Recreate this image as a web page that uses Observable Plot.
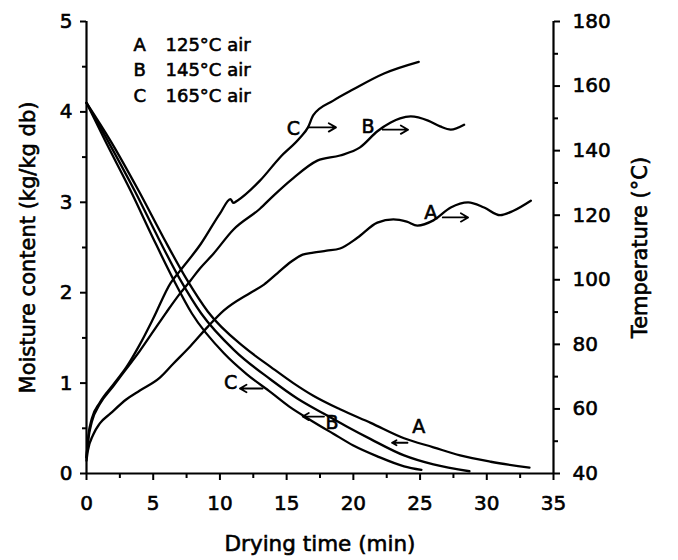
<!DOCTYPE html>
<html><head><meta charset="utf-8">
<script src="https://cdn.jsdelivr.net/npm/d3@7"></script>
<script src="https://cdn.jsdelivr.net/npm/@observablehq/plot@0.6"></script>
<style>
  html,body{margin:0;padding:0;background:#fff;}
  #chart{width:678px;height:560px;}
  #chart svg text{paint-order:stroke;stroke:#000;stroke-width:0.6px;}
</style>
</head><body><div id="chart"></div>
<script>
// ---------- data ----------
const seriesNames = ["A", "B", "C"];
const airTemps = [125, 145, 165];

// Moisture content (kg/kg db) vs drying time (min)
const moistTimeA = [0, 1.8, 3.9, 5.8, 7.5, 9.1, 11.8, 13.8, 15.5, 17.0, 19.0, 21.3, 23.8, 26.0, 28.0, 30.3, 33.2];
const moistA     = [4.1, 3.68, 3.13, 2.6, 2.15, 1.79, 1.4, 1.18, 1.0, 0.86, 0.71, 0.56, 0.39, 0.29, 0.2, 0.13, 0.065];
const moistTimeB = [0, 1.6, 3.6, 5.4, 7.0, 8.6, 11.1, 13.8, 15.8, 17.8, 19.5, 21.3, 23.8, 26.0, 28.7];
const moistB     = [4.1, 3.68, 3.13, 2.6, 2.15, 1.77, 1.36, 1.04, 0.83, 0.66, 0.52, 0.38, 0.2, 0.1, 0.025];
const moistTimeC = [0, 1.4, 3.3, 5.0, 6.5, 7.9, 10.3, 12.0, 13.8, 15.2, 16.8, 18.5, 20.0, 21.8, 23.8, 25.1];
const moistC     = [4.1, 3.68, 3.13, 2.6, 2.15, 1.77, 1.33, 1.1, 0.9, 0.74, 0.59, 0.44, 0.31, 0.19, 0.08, 0.04];

// Temperature (°C) vs drying time (min)
const tempTimeA = [0, 0.1, 0.5, 1.0, 1.8, 3.0, 4.0, 5.5, 6.5, 7.8, 9.1, 10.3, 12.3, 13.3, 14.3, 15.3, 16.2, 17.0, 18.0, 19.0, 20.3, 21.8, 23.0, 24.0, 24.8, 26.0, 27.3, 28.6, 29.8, 31.0, 32.0, 33.3];
const tempA     = [44, 47, 52, 55.5, 58.6, 63, 65.7, 69.7, 74, 79.5, 85.5, 90.5, 96, 98.5, 102, 105.5, 107.8, 108.4, 109, 109.7, 113, 117.7, 118.7, 118, 116.8, 118.4, 122.4, 124, 122.4, 120, 121.4, 124.5];
const tempTimeB = [0, 0.15, 0.4, 1.0, 2.0, 3.0, 4.0, 5.0, 6.0, 7.0, 7.8, 8.5, 9.5, 11.0, 13.0, 14.0, 15.5, 17.3, 19.0, 20.5, 21.8, 22.8, 23.5, 24.3, 25.6, 26.5, 27.3, 28.3];
const tempB     = [45, 51, 56, 61.5, 67, 72.5, 78, 84, 90, 95.7, 99.8, 103.5, 108, 115.5, 122, 126, 131.5, 136.9, 138.5, 141, 146, 148.7, 150, 150.6, 149.3, 147.5, 146.5, 148];
const tempTimeC = [0, 0.15, 0.4, 1.0, 2.0, 3.0, 4.0, 5.0, 6.3, 7.05, 8.55, 10.0, 10.8, 11.0, 11.3, 13.0, 14.5, 16.0, 16.6, 17.0, 18.5, 20.0, 22.3, 24.9];
const tempC     = [45, 52, 57, 62, 67.5, 73, 80, 88, 99, 103, 111, 120.5, 125, 123.8, 124.5, 130.7, 137.9, 144, 147.2, 151, 155.5, 159, 163.9, 167.5];

// Curve annotations (label letter + arrow), data units
const moistLabelT = [24.9, 18.4, 10.8];
const moistLabelM = [0.51, 0.56, 1.0];
const moistArrowT1 = [24.06, 17.8, 13.2];
const moistArrowT2 = [22.9, 16.2, 11.5];
const moistArrowM = [0.34, 0.63, 0.94];
const tempLabelT = [25.8, 21.1, 15.5];
const tempLabelV = [120.8, 147.2, 146.8];
const tempArrowT1 = [26.7, 22.2, 16.6];
const tempArrowT2 = [28.6, 24.1, 18.7];
const tempArrowV = [119.3, 146.5, 147.2];

// Axis ticks
const xTicks = [0, 5, 10, 15, 20, 25, 30, 35];
const xMinor = [2.5, 7.5, 12.5, 17.5, 22.5, 27.5, 32.5];
const moistTicks = [0, 1, 2, 3, 4, 5];
const moistMinor = [0.5, 1.5, 2.5, 3.5, 4.5];
const tempTicks = [40, 60, 80, 100, 120, 140, 160, 180];
const tempMinor = [50, 70, 90, 110, 130, 150, 170];

const xLabel = "Drying time (min)";
const yLabel = "Moisture content (kg/kg db)";
const y2Label = "Temperature (\u00B0C)";

// ---------- helpers ----------
const T_MIN = 40, T_MAX = 180, M_MAX = 5;
const toM = T => (T - T_MIN) / (T_MAX - T_MIN) * M_MAX;   // right axis -> left axis units
const fromM = m => T_MIN + m / M_MAX * (T_MAX - T_MIN);

const moistT = [moistTimeA, moistTimeB, moistTimeC];
const moistV = [moistA, moistB, moistC];
const tempT = [tempTimeA, tempTimeB, tempTimeC];
const tempV = [tempA, tempB, tempC];

const moistRows = seriesNames.flatMap((s, i) => moistT[i].map((t, j) => ({s, t, v: moistV[i][j]})));
const tempRows = seriesNames.flatMap((s, i) => tempT[i].map((t, j) => ({s, t, v: toM(tempV[i][j])})));

const labelRows = seriesNames.flatMap((s, i) => [
  {s, t: moistLabelT[i], v: moistLabelM[i]},
  {s, t: tempLabelT[i], v: toM(tempLabelV[i])}
]);
const arrowRows = seriesNames.flatMap((s, i) => [
  {t1: moistArrowT1[i], t2: moistArrowT2[i], v: moistArrowM[i]},
  {t1: tempArrowT1[i], t2: tempArrowT2[i], v: toM(tempArrowV[i])}
]);

const FONT = "DejaVu Sans";
const legendMarks = seriesNames.flatMap((s, i) => [
  Plot.text([s], {frameAnchor: "top-left", text: d => d, dx: 47, dy: 29 + i * 25.5, lineAnchor: "bottom", textAnchor: "start", fontSize: 18}),
  Plot.text([airTemps[i]], {frameAnchor: "top-left", text: d => `${d}\u00B0C air`, dx: 79, dy: 29 + i * 25.5, lineAnchor: "bottom", textAnchor: "start", fontSize: 18})
]);

const chart = Plot.plot({
  width: 678,
  height: 560,
  marginLeft: 86,
  marginRight: 125,
  marginTop: 21,
  marginBottom: 87,
  style: {fontFamily: FONT, fontSize: "20px", color: "#000", background: "#fff", overflow: "visible"},
  x: {domain: [0, 35]},
  y: {domain: [0, 5]},
  marks: [
    // axes
    Plot.axisX({ticks: xTicks, tickSize: 7, tickPadding: 15, strokeWidth: 2, label: null, fontSize: 20, tickFormat: "d"}),
    Plot.axisX({ticks: xMinor, tickSize: 5, strokeWidth: 2, label: null, tickFormat: () => ""}),
    Plot.axisY({ticks: moistTicks, anchor: "left", tickSize: 6, tickPadding: 8, strokeWidth: 2, label: null, fontSize: 20, tickFormat: "d"}),
    Plot.axisY({ticks: moistMinor, anchor: "left", tickSize: 4, strokeWidth: 2, label: null, tickFormat: () => ""}),
    Plot.axisY({ticks: tempTicks.map(toM), anchor: "right", tickSize: 6, tickPadding: 13, strokeWidth: 2, label: null, fontSize: 20, tickFormat: v => String(Math.round(fromM(v)))}),
    Plot.axisY({ticks: tempMinor.map(toM), anchor: "right", tickSize: 4, strokeWidth: 2, label: null, tickFormat: () => ""}),
    Plot.ruleX([0, 35], {stroke: "#000", strokeWidth: 2.2}),
    Plot.ruleY([0], {stroke: "#000", strokeWidth: 2.2}),
    // curves
    Plot.line(moistRows, {x: "t", y: "v", z: "s", stroke: "#000", strokeWidth: 2.3, curve: "monotone-x"}),
    Plot.line(tempRows, {x: "t", y: "v", z: "s", stroke: "#000", strokeWidth: 2.3, curve: "monotone-x"}),
    // annotations
    Plot.text(labelRows, {x: "t", y: "v", text: "s", fontSize: 19}),
    Plot.arrow(arrowRows, {x1: "t1", y1: "v", x2: "t2", y2: "v", stroke: "#000", strokeWidth: 1.8, headLength: 7}),
    ...legendMarks,
    // axis titles
    Plot.text([xLabel], {frameAnchor: "bottom", text: d => d, dy: 77, textAnchor: "middle", fontSize: 21.5}),
    Plot.text([yLabel], {frameAnchor: "left", text: d => d, dx: -58, rotate: -90, textAnchor: "middle", fontSize: 21}),
    Plot.text([y2Label], {frameAnchor: "right", text: d => d, dx: 87, rotate: -90, textAnchor: "middle", fontSize: 21})
  ]
});
document.getElementById("chart").appendChild(chart);
</script>
</body></html>
